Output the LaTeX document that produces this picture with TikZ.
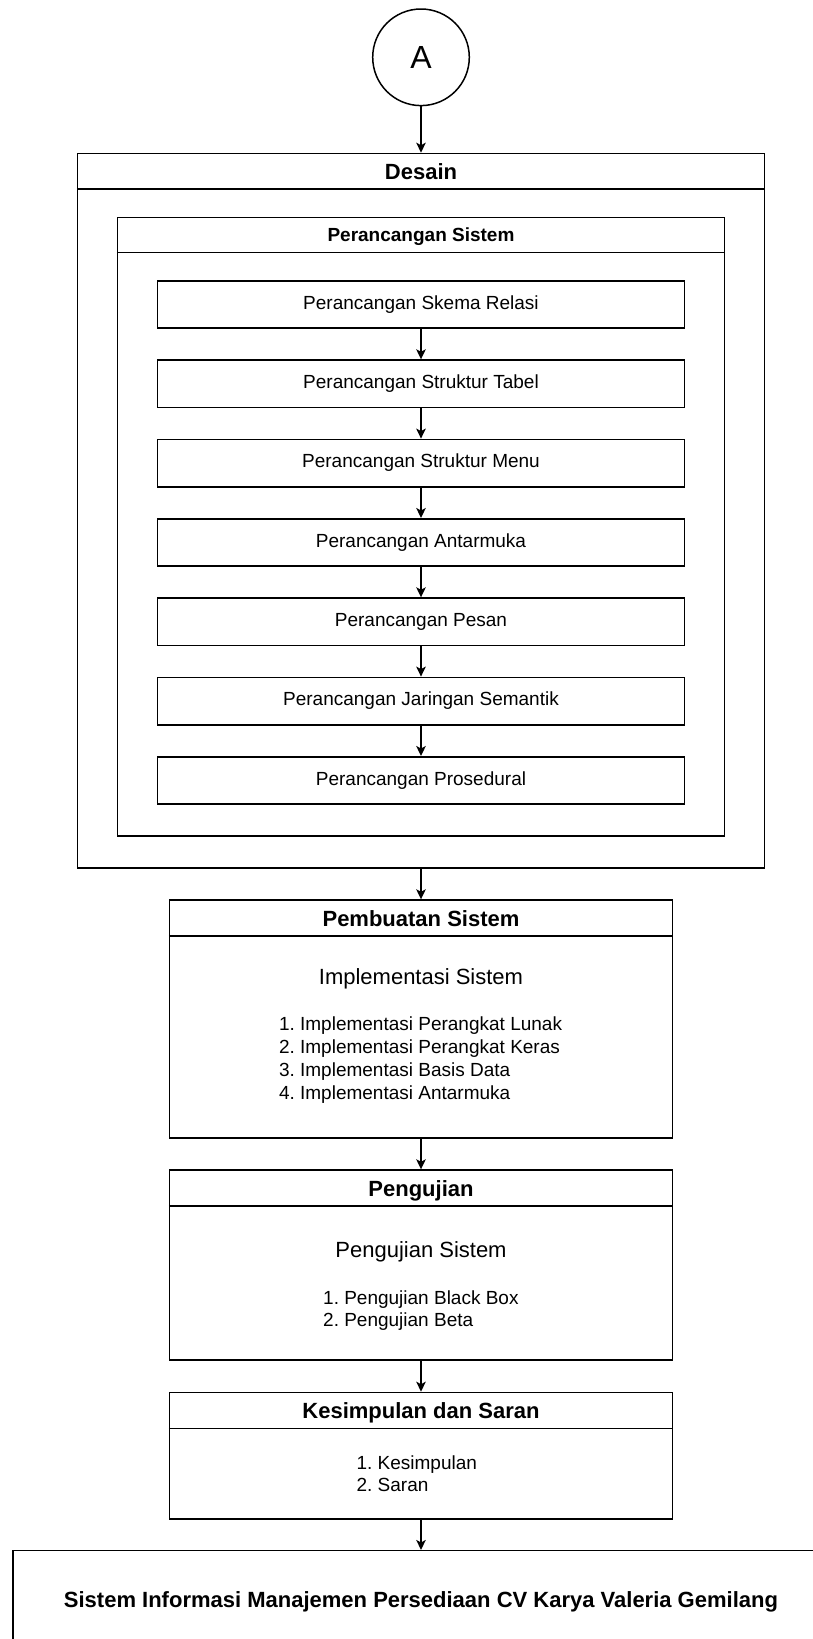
\documentclass[tikz,border=0pt]{standalone}
\usepackage{fontspec}
\setmainfont{Liberation Sans}
\usetikzlibrary{arrows.meta}
\newcommand\fsm{\fontsize{19pt}{22.8pt}\selectfont}
\newcommand\fbg{\fontsize{22pt}{26pt}\selectfont}
\frenchspacing
\begin{document}
\begin{tikzpicture}[x=1pt,y=1pt,
  box/.style={draw, rectangle, line width=1.5pt, inner sep=0pt},
  arr/.style={-{Stealth[length=10pt,width=9.5pt,inset=2.5pt]}, line width=1.5pt},
  hdr/.style={inner sep=0pt, font=\fbg\bfseries, text height=15.8pt, text depth=4.6pt, yshift=-2.5pt},
  sub/.style={inner sep=0pt, font=\fsm\bfseries, text height=13.7pt, text depth=4pt, yshift=-2pt},
  step box/.style={box, minimum width=526.8pt, minimum height=47.4pt, anchor=north, font=\fsm, text height=13.7pt, text depth=4pt},
  lst/.style={inner sep=0pt, align=left, anchor=west, font=\fsm, yshift=-2pt},
  ttl/.style={inner sep=0pt, font=\fbg, text height=15.8pt, text depth=4.6pt, yshift=-2.5pt}]
\path[use as bounding box] (0,0) rectangle (813,-1639);

% circle A
\node[circle, draw, line width=1.5pt, minimum size=96.6pt, inner sep=0pt, font=\fontsize{32pt}{36pt}\selectfont, text height=23pt, text depth=0pt] (A) at (421,-57.3) {A};

% Desain
\node[box, minimum width=686.9pt, minimum height=714.6pt, anchor=north] (desain) at (421,-152.7) {};
\draw[line width=1.5pt] ([yshift=-36.3pt]desain.north west) coordinate (dh1) -- ([yshift=-36.3pt]desain.north east) coordinate (dh2);
\node[hdr] (desaint) at (421,-171) {Desain};

% Perancangan Sistem
\node[box, minimum width=606.6pt, minimum height=618.6pt, anchor=north] (ps) at (421,-216.7) {};
\draw[line width=1.5pt] ([yshift=-35.6pt]ps.north west) coordinate (ph1) -- ([yshift=-35.6pt]ps.north east) coordinate (ph2);
\node[sub] (pst) at (421,-234.5) {Perancangan Sistem};

% inner steps
\node[step box] (s1) at (421,-280) {Perancangan Skema Relasi};
\node[step box] (s2) at (421,-359.3) {Perancangan Struktur Tabel};
\node[step box] (s3) at (421,-438.6) {Perancangan Struktur Menu};
\node[step box] (s4) at (421,-518) {Perancangan Antarmuka};
\node[step box] (s5) at (421,-597.3) {Perancangan Pesan};
\node[step box] (s6) at (421,-676.6) {Perancangan Jaringan Semantik};
\node[step box] (s7) at (421,-756) {Perancangan Prosedural};

% Pembuatan Sistem
\node[box, minimum width=502.9pt, minimum height=238pt, anchor=north] (pb) at (421,-899.3) {};
\draw[line width=1.5pt] ([yshift=-36.7pt]pb.north west) coordinate (bh1) -- ([yshift=-36.7pt]pb.north east) coordinate (bh2);
\node[hdr] (pbt) at (421,-918) {Pembuatan Sistem};
\node[ttl] (impl) at (421,-976) {Implementasi Sistem};
\node[lst] (impll) at (278.8,-1058.2) {1. Implementasi Perangkat Lunak\\2. Implementasi Perangkat Keras\\3. Implementasi Basis Data\\4. Implementasi Antarmuka};

% Pengujian
\node[box, minimum width=502.9pt, minimum height=190pt, anchor=north] (pg) at (421,-1169.3) {};
\draw[line width=1.5pt] ([yshift=-36.7pt]pg.north west) coordinate (gh1) -- ([yshift=-36.7pt]pg.north east) coordinate (gh2);
\node[hdr] (pgt) at (421,-1188) {Pengujian};
\node[ttl] (pgs) at (421,-1249.3) {Pengujian Sistem};
\node[lst] (pgl) at (323,-1308.6) {1. Pengujian Black Box\\2. Pengujian Beta};

% Kesimpulan dan Saran
\node[box, minimum width=502.9pt, minimum height=126.6pt, anchor=north] (ks) at (421,-1391.7) {};
\draw[line width=1.5pt] ([yshift=-36.6pt]ks.north west) coordinate (kh1) -- ([yshift=-36.6pt]ks.north east) coordinate (kh2);
\node[hdr] (kst) at (421,-1410) {Kesimpulan dan Saran};
\node[lst] (ksl) at (356.4,-1471.6) {1. Kesimpulan\\2. Saran};

% final box (cut by page edge)
\begin{scope}
\clip (0,0) rectangle (813,-1639);
\node[box, minimum width=816pt, minimum height=97.2pt] (fin) at (421,-1599.3) {};
\end{scope}
\node[hdr] (fint) at (421,-1599.3) {Sistem Informasi Manajemen Persediaan CV Karya Valeria Gemilang};

% connectors
\draw[arr] (A.south) -- (desain.north);
\draw[arr] (s1.south) -- (s2.north);
\draw[arr] (s2.south) -- (s3.north);
\draw[arr] (s3.south) -- (s4.north);
\draw[arr] (s4.south) -- (s5.north);
\draw[arr] (s5.south) -- (s6.north);
\draw[arr] (s6.south) -- (s7.north);
\draw[arr] (desain.south) -- (pb.north);
\draw[arr] (pb.south) -- (pg.north);
\draw[arr] (pg.south) -- (ks.north);
\draw[arr] (ks.south) -- (fin.north);
\end{tikzpicture}
\end{document}
